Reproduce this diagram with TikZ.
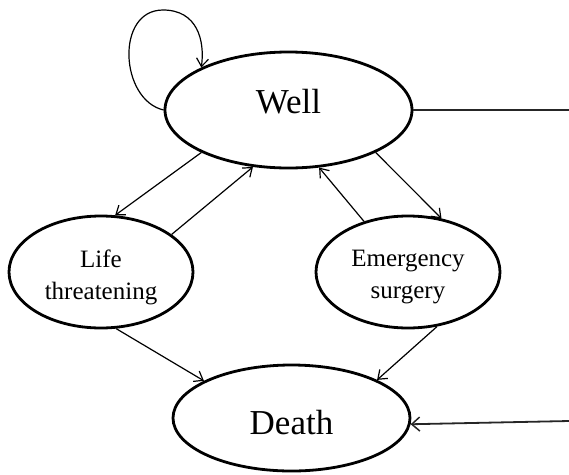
\documentclass[tikz,border=0pt]{standalone}
\usepackage{fontspec}
\setmainfont{Liberation Serif}
\usetikzlibrary{shapes.geometric,arrows.meta}
\tikzset{
  state/.style={draw, ellipse, line width=2.8pt, inner sep=0pt, fill=white},
  arr/.style={line width=1.2pt, -{Straight Barb[length=8pt,width=12pt,line width=1.2pt]}},
  bigtxt/.style={font=\fontsize{35}{40}\selectfont},
  smalltxt/.style={font=\fontsize{25}{32}\selectfont, align=center},
  ext/.style={line width=1.8pt, draw=black!85}
}
\begin{document}
\begin{tikzpicture}[x=1pt,y=-1pt]
\useasboundingbox (0,0) rectangle (569,474);
\node[state, minimum width=247pt, minimum height=116pt,
      label={[bigtxt, yshift=8.5pt]center:Well}] (well) at (288.5,110) {};
\node[state, minimum width=184pt, minimum height=112pt,
      label={[smalltxt, yshift=-5pt]center:Life\\threatening}] (life) at (101,272) {};
\node[state, minimum width=184pt, minimum height=112pt,
      label={[smalltxt, yshift=-5pt]center:Emergency\\surgery}] (emer) at (408,272) {};
\node[state, minimum width=237pt, minimum height=106pt,
      label={[bigtxt, yshift=-4.5pt]center:Death}] (death) at (291.5,418) {};
\coordinate (wR) at (569,110);
\coordinate (dR) at (569,421);
% self loop
\draw[arr] (well.west) .. controls (120,100) and (115,10) .. (163,10)
  .. controls (197,10) and (205,40) .. (well.154);
% transitions
\draw[arr] (well.206) -- (life.76);
\draw[arr] (life.28) -- (well.238);
\draw[arr] (emer.131) -- (well.298);
\draw[arr] (well.334) -- (emer.58);
\draw[arr] (life.285) -- (death.157);
\draw[arr] (emer.298) -- (death.24);
% external lines
\draw[ext] (well.east) -- (wR);
\draw[ext, -{Straight Barb[length=8pt,width=14pt,line width=1.5pt]}] (dR) -- (death.-3);
\end{tikzpicture}
\end{document}
